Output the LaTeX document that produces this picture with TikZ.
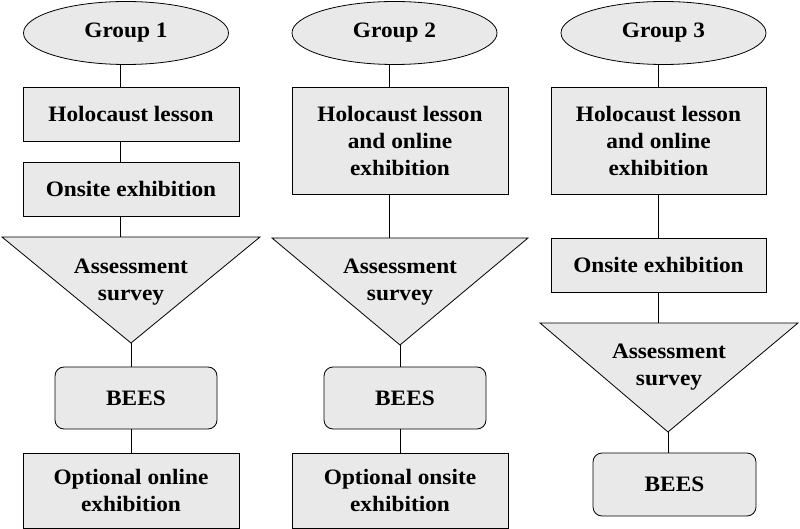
\documentclass[tikz,border=0pt]{standalone}
\usepackage{fontspec}
\setmainfont{Liberation Serif}[FakeStretch=1.06]
\usepackage{tikz}
\usetikzlibrary{shapes.geometric}
\definecolor{boxgray}{RGB}{233,233,233}

\begin{document}
\begin{tikzpicture}[
      grp/.style={ellipse,draw,fill=boxgray,minimum width=205pt,minimum height=63pt,inner sep=0pt},
      stg/.style={rectangle,draw,fill=boxgray,align=center,minimum width=216pt,inner sep=0pt},
      res/.style={rectangle,draw,fill=boxgray,rounded corners=9pt,minimum width=162pt,minimum height=62pt,inner sep=0pt},
      tri/.style={draw,fill=boxgray,line join=miter},
      lbl/.style={align=center,inner sep=0pt},
      ln/.style={draw},
      every node/.style={font=\fontsize{22}{27}\selectfont\bfseries},
      line width=0.8pt,x=1pt,y=-1pt]
    \useasboundingbox (0,0) rectangle (800,529);
    % group 1
    \coordinate (c1) at (120,0);
    \node[grp] (g1) at (126,33) {Group 1};
    \node[stg,minimum height=54pt] (h1) at (131,114) {Holocaust lesson};
    \node[stg,minimum height=54pt] (o1) at (131,189) {Onsite exhibition};
    \coordinate (t1l) at (2,237);
    \coordinate (t1r) at (260,237);
    \coordinate (t1a) at (131,343);
    \draw[tri] (t1l) -- (t1r) -- (t1a) -- cycle;
    \node[lbl] (a1) at (131,282) {Assessment\\survey};
    \node[res] (b1) at (136,398) {BEES};
    \node[stg,minimum height=75pt] (p1) at (131,490.5) {Optional online\\exhibition};
    \draw[ln] (g1.south -| c1) -- (h1.north -| c1);
    \draw[ln] (h1.south -| c1) -- (o1.north -| c1);
    \draw[ln] (o1.south -| c1) -- (t1l -| c1);
    \draw[ln] (t1a) -- (b1.north -| t1a);
    \draw[ln] (b1.south -| t1a) -- (p1.north -| t1a);
    % group 2
    \coordinate (c2) at (389,0);
    \node[grp] (g2) at (394.5,33) {Group 2};
    \node[stg,minimum height=107pt] (h2) at (400,140.5) {Holocaust lesson\\and online\\exhibition};
    \coordinate (t2l) at (272,238);
    \coordinate (t2r) at (528,238);
    \coordinate (t2a) at (400,345);
    \draw[tri] (t2l) -- (t2r) -- (t2a) -- cycle;
    \node[lbl] (a2) at (400,282) {Assessment\\survey};
    \node[res] (b2) at (405,398) {BEES};
    \node[stg,minimum height=75pt] (p2) at (400,490.5) {Optional onsite\\exhibition};
    \draw[ln] (g2.south -| c2) -- (h2.north -| c2);
    \draw[ln] (h2.south -| c2) -- (t2l -| c2);
    \draw[ln] (t2a) -- (b2.north -| t2a);
    \draw[ln] (b2.south -| t2a) -- (p2.north -| t2a);
    % group 3
    \coordinate (c3) at (658,0);
    \node[grp] (g3) at (663.5,33) {Group 3};
    \node[stg,minimum height=107pt,minimum width=215pt] (h3) at (658.5,140.5) {Holocaust lesson\\and online\\exhibition};
    \node[stg,minimum height=54pt,minimum width=215pt] (o3) at (658.5,265) {Onsite exhibition};
    \coordinate (t3l) at (540,323);
    \coordinate (t3r) at (798,323);
    \coordinate (t3a) at (668,432);
    \draw[tri] (t3l) -- (t3r) -- (t3a) -- cycle;
    \node[lbl] (a3) at (669,367) {Assessment\\survey};
    \node[res,minimum width=163pt,minimum height=63pt] (b3) at (674.5,484.5) {BEES};
    \draw[ln] (g3.south -| c3) -- (h3.north -| c3);
    \draw[ln] (h3.south -| c3) -- (o3.north -| c3);
    \draw[ln] (o3.south -| c3) -- (t3l -| c3);
    \draw[ln] (t3a) -- (b3.north -| t3a);
  \end{tikzpicture}
\end{document}
